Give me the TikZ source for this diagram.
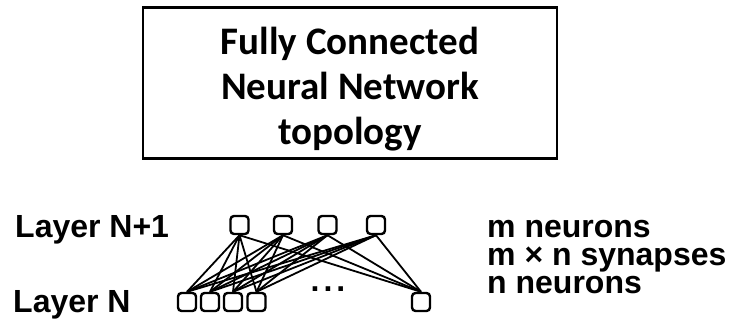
\documentclass[tikz,border=0pt]{standalone}
\usepackage{fontspec}
\setmainfont{Liberation Sans}
\newfontfamily\titlefont{Carlito}
\usepackage{tikz}
\usetikzlibrary{positioning}
\tikzstyle{titlebox} = [
    rectangle,
    draw,
    line width=2.2pt,
    minimum width=414pt,
    minimum height=151pt
]
\tikzstyle{titletext} = [
    align=center,
    inner sep=0pt,
    font=\titlefont\bfseries\fontsize{39}{45}\selectfont
]
\tikzstyle{neuron} = [
    rectangle,
    rounded corners=3.5pt,
    draw,
    line width=2.4pt,
    minimum size=18pt,
    inner sep=0pt
]
\tikzstyle{synapse} = [
    line width=1.8pt
]
\tikzstyle{label} = [
    inner sep=0pt,
    anchor=base west,
    font=\bfseries\fontsize{32}{28}\selectfont
]

\begin{document}
\begin{tikzpicture}[x=1pt, y=-1pt]
        \useasboundingbox (0,0) rectangle (737,322);
        \node[titlebox] (title) at (350,83) {};
        \node[titletext] (titletext) at (350,89) {Fully Connected\\Neural Network\\topology};

        % layer N+1
        \node[neuron] (t1) at (239.5,225) {};
        \node[neuron] (t2) at (283,225) {};
        \node[neuron] (t3) at (327.5,225) {};
        \node[neuron] (t4) at (376,225) {};
        % layer N
        \node[neuron] (b1) at (187,302) {};
        \node[neuron] (b2) at (210,302) {};
        \node[neuron] (b3) at (233,302) {};
        \node[neuron] (b4) at (256.5,302) {};
        \node[neuron] (bn) at (421,302) {};
        \node[label, anchor=base] (dots) at (328,291) {.\kern4pt.\kern4pt.};

        \foreach \t in {t1,t2,t3,t4}
            \foreach \b in {b1,b2,b3,b4,bn}
                \draw[synapse] (\t.south) -- (\b.north);

        \node[label] (upper) at (15,237) {Layer N+1};
        \node[label] (lower) at (13,312) {Layer N};
        \node[label] (mneur) at (487,237) {m neurons};
        \node[label] (syn) at (487,265) {m × n synapses};
        \node[label] (nneur) at (487,293) {n neurons};
    \end{tikzpicture}
\end{document}
